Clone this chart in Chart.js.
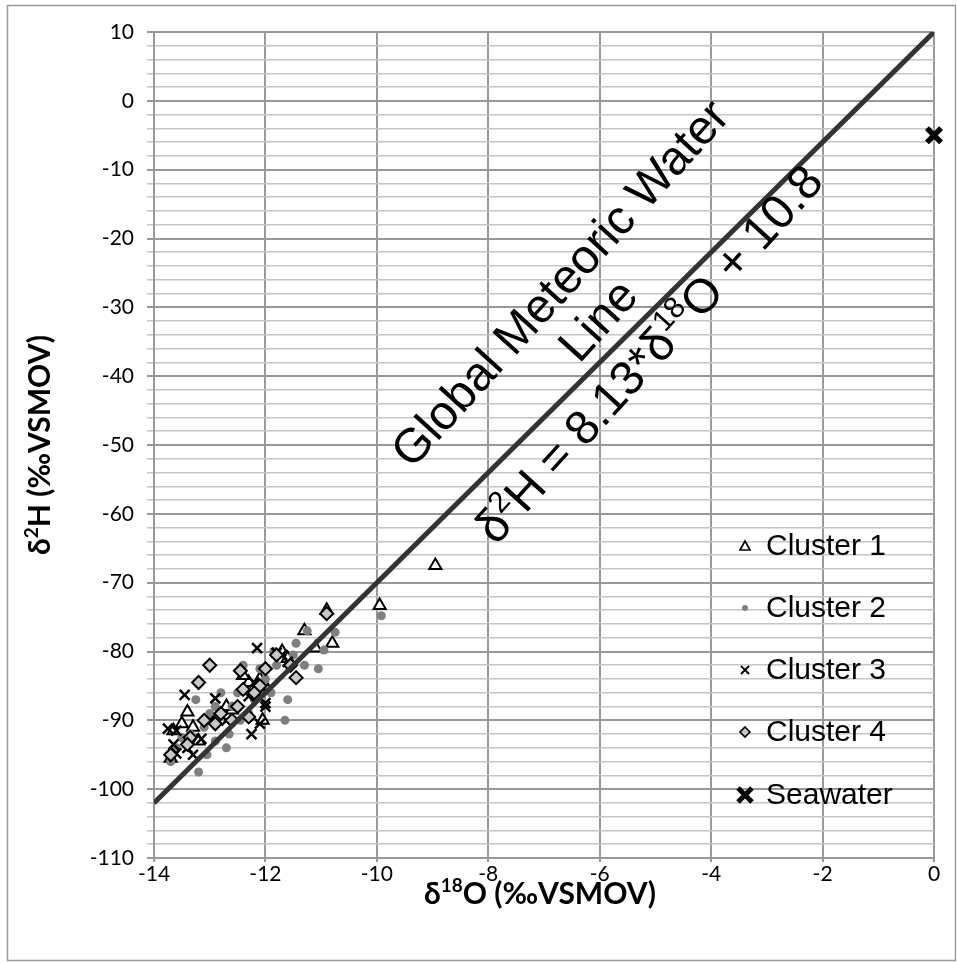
<!DOCTYPE html>
<html>
<head>
<meta charset="utf-8">
<script src="https://cdn.jsdelivr.net/npm/chart.js@4.4.1/dist/chart.umd.min.js"></script>
<style>
  html, body { margin: 0; padding: 0; background: #fff; }
  #wrap { width: 957px; height: 963px; position: relative; }
</style>
</head>
<body>
<div id="wrap"><canvas id="c" width="957" height="963"></canvas></div>
<script>
// δ18O / δ2H per cluster
const cluster1X = [-8.95, -9.95, -10.9, -10.8, -11.3, -11.1, -11.7, -11.6, -12.1, -12.0, -12.3, -12.4, -12.6, -12.2, -12.05, -13.4, -13.3, -13.65, -13.5, -13.2, -13.7, -12.7];
const cluster1Y = [-67.5, -73.3, -74, -78.8, -77, -79.5, -80, -81, -84, -85, -84.5, -83.5, -88.5, -86, -90, -88.8, -91, -91.5, -90.5, -93, -95.5, -88];

const cluster2X = [-9.92, -10.75, -10.95, -11.05, -11.25, -11.3, -11.45, -11.5, -11.6, -11.65, -11.8, -11.85, -12.0, -12.1, -12.3, -12.4, -12.5, -12.6, -12.65, -12.7, -12.8, -12.9, -13.0, -13.05, -13.1, -13.2, -13.25, -13.35, -13.5, -13.6, -13.7, -12.2, -12.45, -11.9, -12.9];
const cluster2Y = [-74.8, -77.2, -79.8, -82.5, -77, -82, -78.8, -80.5, -87, -90, -82, -80, -84, -82.5, -89, -82, -86, -88, -92, -94, -86, -88, -89, -95, -91, -97.5, -87, -92, -92.5, -94, -96, -87, -90, -86, -93];

const cluster3X = [-12.15, -11.8, -11.6, -11.7, -12.2, -12.3, -12.0, -12.05, -12.25, -12.1, -12.7, -12.9, -13.0, -13.15, -13.45, -13.75, -13.6, -13.65, -13.6, -13.4, -13.3, -12.0];
const cluster3Y = [-79.5, -80.2, -81.5, -80.5, -84.5, -86.5, -87.5, -85.5, -92, -90.5, -90, -86.8, -90, -92.7, -86.3, -91.2, -91.5, -93.5, -94.8, -94, -95, -88];

const cluster4X = [-10.9, -11.45, -11.55, -11.8, -12.0, -12.1, -12.2, -12.4, -12.45, -12.5, -12.3, -12.6, -12.9, -13.0, -13.2, -13.1, -13.35, -13.4, -13.7, -12.8];
const cluster4Y = [-74.5, -83.8, -82, -80.5, -82.5, -85, -86, -85.5, -82.8, -88, -89.5, -90, -90.5, -82, -84.5, -90, -92.5, -93.5, -95, -89];

const seawaterX = [0];
const seawaterY = [-5];

// GMWL end points as drawn
const gmwlX = [-14, 0];
const gmwlY = [-102, 10];

const legendLabels = ['Cluster 1', 'Cluster 2', 'Cluster 3', 'Cluster 4', 'Seawater'];

const pts = (xs, ys) => xs.map((x, i) => ({ x, y: ys[i] }));

const PLOT = { left: 154, right: 934, top: 32, bottom: 858 };
const SANS = '"Liberation Sans", Arial, sans-serif';

// text with superscript pieces, centred on (cx, cy) and rotated
function drawRich(ctx, parts, cx, cy, angle, size, bold, family) {
  const b = bold ? 'bold ' : '';
  const big = b + size + 'px ' + family;
  const small = b + Math.round(size * 0.62) + 'px ' + family;
  let w = 0;
  parts.forEach((p) => { ctx.font = p.sup ? small : big; w += ctx.measureText(p.t).width; });
  ctx.save();
  ctx.translate(cx, cy);
  ctx.rotate(angle);
  ctx.textBaseline = 'middle';
  ctx.textAlign = 'left';
  ctx.fillStyle = '#000';
  let x = -w / 2;
  parts.forEach((p) => {
    ctx.font = p.sup ? small : big;
    ctx.fillText(p.t, x, p.sup ? -size * 0.28 : 0);
    x += ctx.measureText(p.t).width;
  });
  ctx.restore();
}

function marker(ctx, type, x, y) {
  ctx.save();
  ctx.strokeStyle = '#000';
  ctx.beginPath();
  if (type === 0) {
    ctx.lineWidth = 1.6; ctx.fillStyle = '#fff';
    ctx.moveTo(x, y - 5); ctx.lineTo(x + 5, y + 4); ctx.lineTo(x - 5, y + 4); ctx.closePath();
    ctx.fill(); ctx.stroke();
  } else if (type === 1) {
    ctx.fillStyle = '#808080';
    ctx.arc(x, y, 3, 0, Math.PI * 2); ctx.fill();
  } else if (type === 2) {
    ctx.lineWidth = 1.8;
    ctx.moveTo(x - 4, y - 4); ctx.lineTo(x + 4, y + 4); ctx.moveTo(x + 4, y - 4); ctx.lineTo(x - 4, y + 4);
    ctx.stroke();
  } else if (type === 3) {
    ctx.lineWidth = 1.6; ctx.fillStyle = '#c8c8c8';
    ctx.moveTo(x, y - 5); ctx.lineTo(x + 5, y); ctx.lineTo(x, y + 5); ctx.lineTo(x - 5, y); ctx.closePath();
    ctx.fill(); ctx.stroke();
  } else {
    ctx.lineWidth = 5;
    ctx.moveTo(x - 7, y - 7); ctx.lineTo(x + 7, y + 7); ctx.moveTo(x + 7, y - 7); ctx.lineTo(x - 7, y + 7);
    ctx.stroke();
  }
  ctx.restore();
}

const extras = {
  id: 'extras',
  beforeDraw(chart) {
    const ctx = chart.ctx;
    ctx.save();
    ctx.fillStyle = '#fff';
    ctx.fillRect(0, 0, chart.width, chart.height);
    ctx.strokeStyle = '#9a9a9a';
    ctx.lineWidth = 1.5;
    ctx.strokeRect(7.5, 5.5, 948, 955);
    ctx.restore();
  },
  afterDatasetsDraw(chart) {
    const ctx = chart.ctx;
    const ang = -47.8 * Math.PI / 180;
    drawRich(ctx, [{ t: 'Global Meteoric Water' }], 562, 285, ang, 48, false, SANS);
    drawRich(ctx, [{ t: 'Line' }], 600, 322, ang, 48, false, SANS);
    drawRich(ctx, [{ t: 'δ' }, { t: '2', sup: true }, { t: 'H = 8.13*δ' }, { t: '18', sup: true }, { t: 'O + 10.8' }], 651, 356, ang, 48, false, SANS);

    // legend
    const ly = [546, 608, 670, 732, 795];
    ctx.save();
    legendLabels.forEach((l, i) => {
      marker(ctx, i, 745, ly[i]);
      ctx.fillStyle = '#000';
      ctx.font = '30px ' + SANS;
      ctx.textBaseline = 'middle';
      ctx.textAlign = 'left';
      ctx.fillText(l, 766, ly[i] + 1);
    });
    ctx.restore();

    // axis titles
    const LATO = 'Lato, "Open Sans", sans-serif';
    drawRich(ctx, [{ t: 'δ' }, { t: '2', sup: true }, { t: 'H (‰VSMOV)' }], 40, 445, -Math.PI / 2, 30, true, LATO);
    drawRich(ctx, [{ t: 'δ' }, { t: '18', sup: true }, { t: 'O (‰VSMOV)' }], 540, 894, 0, 30, true, LATO);
  }
};

new Chart(document.getElementById('c'), {
  type: 'scatter',
  data: {
    datasets: [
      { type: 'line', label: 'GMWL', data: pts(gmwlX, gmwlY), borderColor: '#333', borderWidth: 5, pointRadius: 0, fill: false, order: 0 },
      { label: 'Cluster 1', data: pts(cluster1X, cluster1Y), pointStyle: 'triangle', pointRadius: 7, pointBackgroundColor: '#fff', pointBorderColor: '#000', pointBorderWidth: 2, order: 4 },
      { label: 'Cluster 2', data: pts(cluster2X, cluster2Y), pointStyle: 'circle', pointRadius: 4.5, pointBackgroundColor: '#7f7f7f', pointBorderWidth: 0, order: 3 },
      { label: 'Cluster 3', data: pts(cluster3X, cluster3Y), pointStyle: 'crossRot', pointRadius: 7, pointBorderColor: '#000', pointBorderWidth: 2.5, order: 2 },
      { label: 'Cluster 4', data: pts(cluster4X, cluster4Y), pointStyle: 'rectRot', pointRadius: 6.5, pointBackgroundColor: '#c8c8c8', pointBorderColor: '#000', pointBorderWidth: 2, order: 1 },
      { label: 'Seawater', data: pts(seawaterX, seawaterY), pointStyle: 'crossRot', pointRadius: 10, pointBorderColor: '#000', pointBorderWidth: 5.5, clip: false, order: 1 }
    ]
  },
  options: {
    responsive: false,
    animation: false,
    layout: { padding: { left: 0, top: PLOT.top, right: 957 - PLOT.right, bottom: 0 } },
    plugins: { legend: { display: false }, tooltip: { enabled: false } },
    scales: {
      x: {
        type: 'linear', min: -14, max: 0,
        afterFit: (s) => { s.height = 963 - PLOT.bottom; },
        ticks: { stepSize: 2, color: '#000', padding: 0, font: { family: 'Lato', size: 21 } },
        grid: { color: '#999', lineWidth: 2, tickLength: 4 },
        border: { color: '#999', width: 2 }
      },
      y: {
        type: 'linear', min: -110, max: 10,
        afterFit: (s) => { s.width = PLOT.left; },
        ticks: {
          stepSize: 2, color: '#000', padding: 13, autoSkip: false,
          font: { family: 'Lato', size: 21 },
          callback: (v) => (Math.round(v) % 10 === 0 ? v : '')
        },
        grid: {
          tickLength: 7,
          color: (c) => (c.tick && Math.round(c.tick.value) % 10 === 0 ? '#999' : '#c6c6c6'),
          lineWidth: (c) => (c.tick && Math.round(c.tick.value) % 10 === 0 ? 2 : 1.6)
        },
        border: { color: '#999', width: 2 }
      }
    }
  },
  plugins: [extras]
});
</script>
</body>
</html>
